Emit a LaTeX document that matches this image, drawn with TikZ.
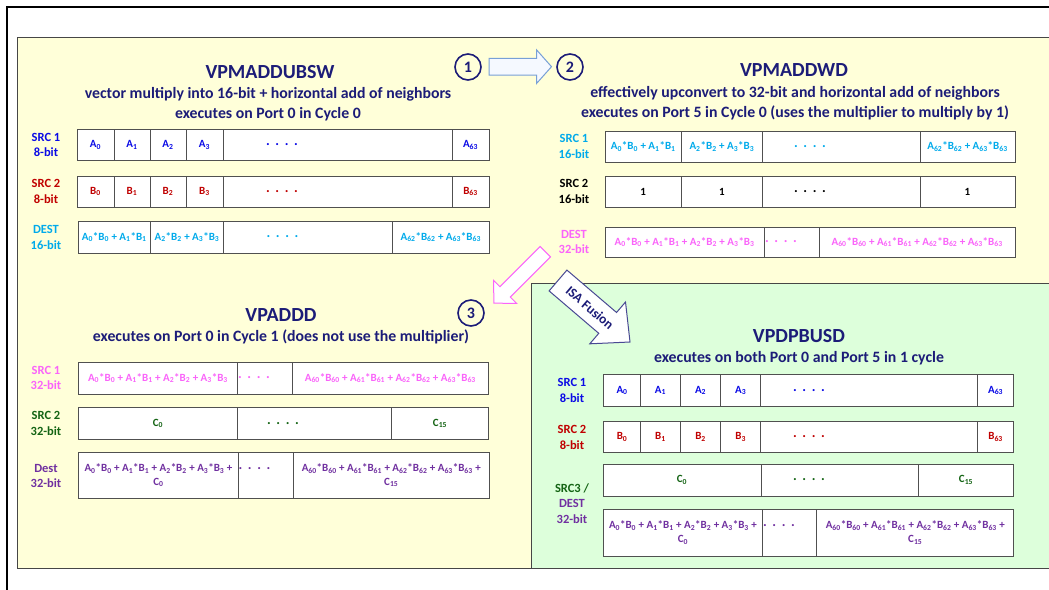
\documentclass[tikz,border=0pt]{standalone}
\usepackage{fontspec}
\setmainfont{Carlito}
\definecolor{navy}{RGB}{28,28,120}
\definecolor{srcblue}{RGB}{10,10,230}
\definecolor{dkred}{RGB}{192,0,0}
\definecolor{ltblue}{RGB}{0,170,235}
\definecolor{pinkc}{RGB}{250,100,250}
\definecolor{dkgreen}{RGB}{20,100,20}
\definecolor{purp}{RGB}{112,48,160}
\definecolor{yellowbg}{RGB}{255,255,217}
\definecolor{greenbg}{RGB}{221,255,219}
\definecolor{boxgray}{RGB}{80,80,80}
\definecolor{panelgray}{RGB}{70,70,70}
\definecolor{arrblue}{RGB}{120,160,215}
\definecolor{arrfill}{RGB}{245,249,255}
\newcommand\cellfont{\bfseries\fontsize{11}{13.7}\selectfont}
\newcommand\labfont{\bfseries\fontsize{12.5}{15.6}\selectfont}
\newcommand\s[1]{\textsubscript{#1}}
\newcommand\ab[1]{A\s{#1}*B\s{#1}}
\newcommand\dotz{{\fontsize{14}{14}\selectfont.\hspace{5.6pt}.\hspace{5.6pt}.\hspace{5.6pt}.}}
\newcommand\cel[7]{\node[cellsty,text=#2,minimum width={(#4-#3)*1pt},minimum height={(#6-#5)*1pt}] (#1) at ({(#3+#4)/2},{(#5+#6)/2}) {#7};}
\tikzset{
  cellsty/.style={draw=boxgray, fill=white, line width=0.9pt, inner sep=0pt, font=\cellfont, align=center},
  dotsty/.style={inner sep=0pt, font=\cellfont},
  lab/.style={font=\labfont, align=center, inner sep=0pt},
  ttl/.style={font=\bfseries\fontsize{20}{24}\selectfont, text=navy, inner sep=0pt},
  subttl/.style={font=\bfseries\fontsize{15.8}{19.5}\selectfont, text=navy, align=center, inner sep=0pt},
  num/.style={circle, draw=navy, line width=1.6pt, minimum size=26pt, inner sep=0pt, font=\bfseries\fontsize{16}{18}\selectfont, text=navy},
  panel/.style={draw=panelgray, line width=1pt},
}
\begin{document}
\begin{tikzpicture}[x=1pt,y=-1pt]
\clip (0,0) rectangle (1049,589);
\fill[white] (0,0) rectangle (1049,589);
% outer frame
\draw[line width=2.4pt] (7,600) -- (7,7) -- (1060,7);
% panels
\draw[panel, fill=yellowbg] (17.5,37.5) rectangle (1070,568);
\draw[panel, fill=greenbg] (531,283) rectangle (1070,568);

% ---------- Top-left: VPMADDUBSW ----------
\node[ttl] (t1) at (270,72.5) {VPMADDUBSW};
\node[subttl] (st1) at (268,104) {vector multiply into 16-bit + horizontal add of neighbors\\executes on Port 0 in Cycle 0};
\node[num] (n1) at (468,67) {1};
\node[lab,text=srcblue] (l11) at (46,145) {SRC 1\\8-bit};
\node[lab,text=dkred] (l12) at (46,191.5) {SRC 2\\8-bit};
\node[lab,text=ltblue] (l13) at (46,237.5) {DEST\\16-bit};
\cel{a0}{srcblue}{77}{114}{129.5}{160.5}{A\s{0}}
\cel{a1}{srcblue}{114}{150}{129.5}{160.5}{A\s{1}}
\cel{a2}{srcblue}{150}{186}{129.5}{160.5}{A\s{2}}
\cel{a3}{srcblue}{186}{223}{129.5}{160.5}{A\s{3}}
\cel{ax}{srcblue}{223}{452}{129.5}{160.5}{}
\cel{a63}{srcblue}{452}{489}{129.5}{160.5}{A\s{63}}
\node[dotsty,text=srcblue] (ad) at (282,145) {\dotz};
\cel{b0}{dkred}{77}{114}{176}{207}{B\s{0}}
\cel{b1}{dkred}{114}{150}{176}{207}{B\s{1}}
\cel{b2}{dkred}{150}{186}{176}{207}{B\s{2}}
\cel{b3}{dkred}{186}{223}{176}{207}{B\s{3}}
\cel{bx}{dkred}{223}{452}{176}{207}{}
\cel{b63}{dkred}{452}{489}{176}{207}{B\s{63}}
\node[dotsty,text=dkred] (bd) at (282,191.5) {\dotz};
\cel{d0}{ltblue}{78}{150.5}{221}{253}{\ab{0} + \ab{1}}
\cel{d1}{ltblue}{150.5}{223.5}{221}{253}{\ab{2} + \ab{3}}
\cel{dx}{ltblue}{223.5}{392.5}{221}{253}{}
\cel{d31}{ltblue}{392.5}{489}{221}{253}{\ab{62} + \ab{63}}
\node[dotsty,text=ltblue] (dd) at (282.5,237) {\dotz};

% ---------- Top-right: VPMADDWD ----------
\node[ttl] (t2) at (794,70.5) {VPMADDWD};
\node[subttl] (st2) at (795,103) {effectively upconvert to 32-bit and horizontal add of neighbors\\executes on Port 5 in Cycle 0 (uses the multiplier to multiply by 1)};
\node[num] (n2) at (570,67) {2};
\node[lab,text=ltblue] (l21) at (574,146.5) {SRC 1\\16-bit};
\node[lab,text=black] (l22) at (574,191.7) {SRC 2\\16-bit};
\node[lab,text=pinkc] (l23) at (574,242) {DEST\\32-bit};
\cel{e0}{ltblue}{605}{681.5}{131}{162}{\ab{0} + \ab{1}}
\cel{e1}{ltblue}{681.5}{762.3}{131}{162}{\ab{2} + \ab{3}}
\cel{ex}{ltblue}{762.3}{920}{131}{162}{}
\cel{e31}{ltblue}{920}{1015}{131}{162}{\ab{62} + \ab{63}}
\node[dotsty,text=ltblue] (ed) at (810,146.5) {\dotz};
\cel{o0}{black}{605}{681.5}{176}{207.5}{1}
\cel{o1}{black}{681.5}{762.3}{176}{207.5}{1}
\cel{ox}{black}{762.3}{920}{176}{207.5}{}
\cel{o31}{black}{920}{1015}{176}{207.5}{1}
\node[dotsty,text=black] (od) at (810,191.7) {\dotz};
\cel{f0}{pinkc}{605}{764.3}{227}{257.5}{\ab{0} + \ab{1} + \ab{2} + \ab{3}}
\cel{fx}{pinkc}{764.3}{819.3}{227}{257.5}{}
\cel{f15}{pinkc}{819.3}{1015}{227}{257.5}{\ab{60} + \ab{61} + \ab{62} + \ab{63}}
\node[dotsty,text=pinkc] (fd) at (781,242) {\dotz};

% ---------- Bottom-left: VPADDD ----------
\node[ttl] (t3) at (281,315) {VPADDD};
\node[subttl] (st3) at (281,337) {executes on Port 0 in Cycle 1 (does not use the multiplier)};
\node[num] (n3) at (471,313) {3};
\node[lab,text=pinkc] (l31) at (46,378) {SRC 1\\32-bit};
\node[lab,text=dkgreen] (l32) at (46,423.5) {SRC 2\\32-bit};
\node[lab,text=purp] (l33) at (46,476) {Dest\\32-bit};
\cel{g0}{pinkc}{78.5}{237.4}{362.3}{394}{\ab{0} + \ab{1} + \ab{2} + \ab{3}}
\cel{gx}{pinkc}{237.4}{292.2}{362.3}{394}{}
\cel{g15}{pinkc}{292.2}{488.5}{362.3}{394}{\ab{60} + \ab{61} + \ab{62} + \ab{63}}
\node[dotsty,text=pinkc] (gd) at (254,378) {\dotz};
\cel{c0}{dkgreen}{78.5}{237.4}{407.7}{439}{C\s{0}}
\cel{cx}{dkgreen}{237.4}{391.6}{407.7}{439}{}
\cel{c15}{dkgreen}{391.6}{488.5}{407.7}{439}{C\s{15}}
\node[dotsty,text=dkgreen] (cd) at (283,423.5) {\dotz};
\cel{h0}{purp}{78.5}{238.4}{452.3}{498.3}{\ab{0} + \ab{1} + \ab{2} + \ab{3} +\\C\s{0}}
\cel{hx}{purp}{238.4}{293.5}{452.3}{498.3}{}
\cel{h15}{purp}{293.5}{489}{452.3}{498.3}{\ab{60} + \ab{61} + \ab{62} + \ab{63} +\\C\s{15}}
\node[dotsty,text=purp] (hd) at (254.5,469) {\dotz};

% ---------- Bottom-right: VPDPBUSD ----------
\node[ttl] (t4) at (799,336) {VPDPBUSD};
\node[subttl] (st4) at (799,358) {executes on both Port 0 and Port 5 in 1 cycle};
\node[lab,text=srcblue] (l41) at (572,390.7) {SRC 1\\8-bit};
\node[lab,text=dkred] (l42) at (572,437.3) {SRC 2\\8-bit};
\node[lab,align=center] (l43) at (572,503.3) {\textcolor{dkgreen}{SRC3 /}\\\textcolor{purp}{DEST}\\\textcolor{purp}{32-bit}};
\cel{p0}{srcblue}{603.5}{640.7}{374.7}{406.3}{A\s{0}}
\cel{p1}{srcblue}{640.7}{680.3}{374.7}{406.3}{A\s{1}}
\cel{p2}{srcblue}{680.3}{720.9}{374.7}{406.3}{A\s{2}}
\cel{p3}{srcblue}{720.9}{760.4}{374.7}{406.3}{A\s{3}}
\cel{px}{srcblue}{760.4}{977.6}{374.7}{406.3}{}
\cel{p63}{srcblue}{977.6}{1013.7}{374.7}{406.3}{A\s{63}}
\node[dotsty,text=srcblue] (pd) at (809,390.5) {\dotz};
\cel{q0}{dkred}{603.5}{640.7}{421}{452.3}{B\s{0}}
\cel{q1}{dkred}{640.7}{680.3}{421}{452.3}{B\s{1}}
\cel{q2}{dkred}{680.3}{720.9}{421}{452.3}{B\s{2}}
\cel{q3}{dkred}{720.9}{760.4}{421}{452.3}{B\s{3}}
\cel{qx}{dkred}{760.4}{977.6}{421}{452.3}{}
\cel{q63}{dkred}{977.6}{1013.7}{421}{452.3}{B\s{63}}
\node[dotsty,text=dkred] (qd) at (809,436.7) {\dotz};
\cel{r0}{dkgreen}{603}{761}{464.3}{496}{C\s{0}}
\cel{rx}{dkgreen}{761}{918.4}{464.3}{496}{}
\cel{r15}{dkgreen}{918.4}{1013.7}{464.3}{496}{C\s{15}}
\node[dotsty,text=dkgreen] (rd) at (809,480) {\dotz};
\cel{w0}{purp}{603}{762.8}{509.3}{556}{\ab{0} + \ab{1} + \ab{2} + \ab{3} +\\C\s{0}}
\cel{wx}{purp}{762.8}{816.9}{509.3}{556}{}
\cel{w15}{purp}{816.9}{1013.7}{509.3}{556}{\ab{60} + \ab{61} + \ab{62} + \ab{63} +\\C\s{15}}
\node[dotsty,text=purp] (wd) at (779,526) {\dotz};

% ---------- block arrows ----------
% 1 -> 2
\draw[draw=arrblue, fill=arrfill, line width=1pt, line join=miter]
  (489,58.3) -- (536.7,58.3) -- (536.7,50) -- (551.5,66.7) -- (536.7,83.3) -- (536.7,75) -- (489,75) -- cycle;
% pink arrow 2 -> 3
\begin{scope}[shift={(545.3,251.7)}, rotate=-135]
\draw[draw=pinkc, fill=white, line width=1pt]
  (0,-7.3) -- (56.8,-7.3) -- (56.8,-16.25) -- (72.8,0) -- (56.8,16.25) -- (56.8,7.3) -- (0,7.3) -- cycle;
\end{scope}
% ISA Fusion arrow
\begin{scope}[shift={(558,280.5)}, rotate=-40.5]
\draw[draw=navy!80, fill=white, line width=1pt]
  (0,-13.7) -- (65.3,-13.7) -- (65.3,-27.5) -- (94.7,0) -- (65.3,27.5) -- (65.3,13.7) -- (0,13.7) -- cycle;
\node[rotate=-40.5, text=navy, font=\bfseries\fontsize{13.5}{16}\selectfont, inner sep=0pt] (isa) at (42,0) {ISA Fusion};
\end{scope}
\end{tikzpicture}
\end{document}
